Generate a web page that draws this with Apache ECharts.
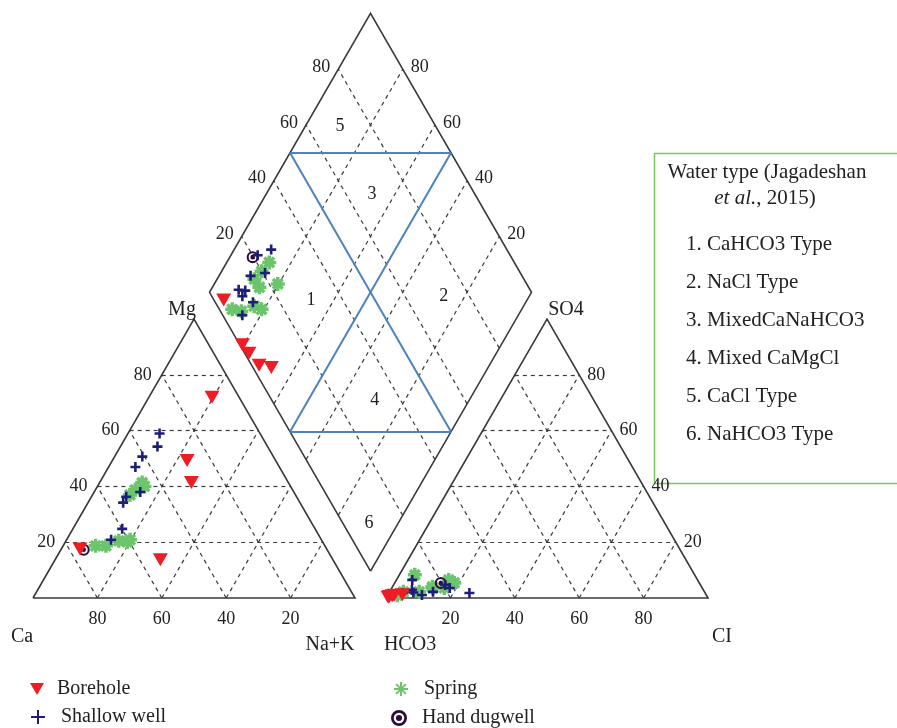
<!DOCTYPE html>
<html><head><meta charset="utf-8">
<script src="https://cdn.jsdelivr.net/npm/echarts@6/dist/echarts.min.js"></script>
<style>html,body{margin:0;padding:0;background:#fff}#c{width:897px;height:728px}</style>
</head><body><div id="c"></div>
<script>
// ---- Sample data (% meq/L) ----
// cations: Mg and Na+K (Ca = 100 - Mg - NaK); anions: SO4 and Cl (HCO3 = rest)
const boreholeMg  = [17.6, 72.0, 49.3, 41.4, 13.7];
const boreholeNaK = [5.8, 19.6, 23.2, 28.5, 32.7];
const boreholeSO4 = [1.0, 0.3, 0.5, 0.8, 1.2];
const boreholeCl  = [2.0, 0.5, 0.8, 1.5, 4.5];

const shallowMg  = [47.0, 54.3, 20.9, 59.0, 36.3, 34.2, 24.8, 38.0, 50.7];
const shallowNaK = [8.3, 11.5, 13.8, 9.8, 10.8, 10.9, 15.3, 14.3, 8.6];
const shallowSO4 = [3.6, 1.8, 4.7, 2.2, 6.5, 2.9, 1.1, 1.8, 2.0];
const shallowCl  = [18.0, 25.0, 16.0, 13.5, 4.9, 6.6, 10.6, 4.3, 7.5];

const springMg  = [41.4, 38.8, 37.0, 20.9, 40.0, 18.7, 18.7, 20.5, 20.1];
const springNaK = [13.2, 12.4, 11.6, 19.7, 14.6, 10.1, 13.3, 16.4, 19.2];
const springSO4 = [5.4, 3.6, 3.6, 6.5, 4.0, 1.0, 2.2, 2.2, 8.3];
const springCl  = [18.5, 16.3, 12.7, 16.2, 12.4, 3.0, 4.3, 9.2, 4.8];

const dugMg  = [17.3];
const dugNaK = [7.1];
const dugSO4 = [5.4];
const dugCl  = [14.3];

const gridLevels = [20, 40, 60, 80];
const tickLabels = ['20', '40', '60', '80'];
const regionNames = ['1', '2', '3', '4', '5', '6'];
const regionCaMg  = [67, 26.5, 67, 29.3, 89.3, 9];   // diamond position of region labels
const regionSO4Cl = [30, 72, 68, 32, 70.3, 8];
const waterTypes = ['1. CaHCO3 Type', '2. NaCl Type', '3. MixedCaNaHCO3',
  '4. Mixed CaMgCl', '5. CaCl Type', '6. NaHCO3 Type'];

// ---- Piper geometry (units: % of triangle side) ----
const H = Math.sqrt(3) / 2;
const GAP = 9.63;
const OX = 100 + GAP;
const BX = 100 + GAP / 2, BY = GAP * H;
function cat(nak, mg) { return [nak + mg / 2, mg * H]; }
function ani(cl, so4) { return [OX + cl + so4 / 2, so4 * H]; }
function dia(c, s) { return [BX + (s - c) / 2, BY + (c + s) * H]; }

function samplePoints(mg, nak, so4, cl) {
  const pts = [];
  for (let i = 0; i < mg.length; i++) {
    pts.push(cat(nak[i], mg[i]));
    pts.push(ani(cl[i], so4[i]));
    pts.push(dia(100 - nak[i], so4[i] + cl[i]));
  }
  return pts;
}

const outline = [
  {coords: [cat(0,0), cat(100,0), cat(0,100), cat(0,0)]},
  {coords: [ani(0,0), ani(100,0), ani(0,100), ani(0,0)]},
  {coords: [dia(0,0), dia(100,0), dia(100,100), dia(0,100), dia(0,0)]}
];
const dashed = [];
gridLevels.forEach(k => {
  dashed.push({coords: [cat(0,k), cat(100-k,k)]});
  dashed.push({coords: [cat(k,0), cat(k,100-k)]});
  dashed.push({coords: [cat(100-k,0), cat(0,100-k)]});
  dashed.push({coords: [ani(0,k), ani(100-k,k)]});
  dashed.push({coords: [ani(k,0), ani(k,100-k)]});
  dashed.push({coords: [ani(100-k,0), ani(0,100-k)]});
  dashed.push({coords: [dia(k,0), dia(k,100)]});
  dashed.push({coords: [dia(0,k), dia(100,k)]});
});
const blue = [
  {coords: [dia(100,50), dia(50,100)]},
  {coords: [dia(50,0), dia(0,50)]},
  {coords: [dia(100,50), dia(0,50)]},
  {coords: [dia(50,100), dia(50,0)]}
];

const SERIF = '"Liberation Serif", "DejaVu Serif", serif';
const triPath = 'path://M0,0 L12,0 L6,10.4 Z';
const plusPath = 'path://M5,0 L5,10 M0,5 L10,5';
const starPath = 'path://M5,0 L5,10 M0,5 L10,5 M1.5,1.5 L8.5,8.5 M8.5,1.5 L1.5,8.5';
const ringPath = 'path://M0,5 A5,5 0 1,0 10,5 A5,5 0 1,0 0,5 Z M1.7,5 A3.3,3.3 0 1,1 8.3,5 A3.3,3.3 0 1,1 1.7,5 Z M3.1,5 A1.9,1.9 0 1,0 6.9,5 A1.9,1.9 0 1,0 3.1,5 Z';

function legendItem(name, left, top, pad, size) {
  return {left: left, top: top, orient: 'vertical', itemWidth: size || 14, itemHeight: size || 14,
    selectedMode: false, padding: 0,
    textStyle: {fontFamily: SERIF, fontSize: 20, color: '#222', padding: [0, 0, 0, pad]},
    data: [name]};
}

const chart = echarts.init(document.getElementById('c'), null, {renderer: 'canvas'});
const option = {
  animation: false,
  backgroundColor: '#fff',
  grid: {left: 0, right: 0, top: 0, bottom: 0},
  xAxis: {type: 'value', min: -10.25, max: 268.32, show: false},
  yAxis: {type: 'value', min: -40.37, max: 185.71, show: false},
  legend: [
    legendItem('Borehole', 30, 679, 8),
    legendItem('Shallow well', 30, 707, 11),
    legendItem('Spring', 393, 679, 11),
    legendItem('Hand dugwell', 391, 708, 10, 16)
  ],
  series: [
    {type: 'lines', coordinateSystem: 'cartesian2d', polyline: true, silent: true, z: 1,
     lineStyle: {color: '#3a3a3a', width: 1.6, opacity: 1}, data: outline},
    {type: 'lines', coordinateSystem: 'cartesian2d', polyline: false, silent: true, z: 1,
     lineStyle: {color: '#3a3a3a', width: 1.2, type: [4, 4], opacity: 1}, data: dashed},
    {type: 'lines', coordinateSystem: 'cartesian2d', polyline: false, silent: true, z: 2,
     lineStyle: {color: '#4f81bd', width: 2, opacity: 1}, data: blue},
    {name: 'Spring', type: 'scatter', z: 3, symbol: starPath, symbolSize: 14,
     itemStyle: {color: '#6cc46c', borderColor: '#6cc46c', borderWidth: 3.5, opacity: 1},
     data: samplePoints(springMg, springNaK, springSO4, springCl)},
    {name: 'Hand dugwell', type: 'scatter', z: 4, symbol: ringPath, symbolSize: 12,
     itemStyle: {color: '#2e0c3a', opacity: 1},
     data: samplePoints(dugMg, dugNaK, dugSO4, dugCl)},
    {name: 'Shallow well', type: 'scatter', z: 5, symbol: plusPath, symbolSize: 10,
     itemStyle: {color: '#1e1e78', borderColor: '#1e1e78', borderWidth: 2.6, opacity: 1},
     data: samplePoints(shallowMg, shallowNaK, shallowSO4, shallowCl)},
    {name: 'Borehole', type: 'scatter', z: 6, symbol: triPath, symbolSize: [15, 13],
     itemStyle: {color: '#ee1c25', opacity: 1},
     data: samplePoints(boreholeMg, boreholeNaK, boreholeSO4, boreholeCl)}
  ]
};
chart.setOption(option);

// ---- Text elements placed via the chart's own scale ----
function P(pt) { return chart.convertToPixel({gridIndex: 0}, pt); }
const g = [];
function txt(pt, text, dx, dy, align, size) {
  const p = P(pt);
  g.push({type: 'text', x: p[0] + dx, y: p[1] + dy, z: 10,
    style: {text: text, fontFamily: SERIF, fontSize: size || 18, fill: '#222',
            align: align || 'center', verticalAlign: 'middle'}});
}
gridLevels.forEach((k, i) => {
  txt(cat(0, k), tickLabels[i], -10, 0, 'right');            // Mg
  txt(cat(k, 0), tickLabels[3 - i], 0, 21, 'center');        // Ca
  txt(ani(k, 0), tickLabels[i], 0, 21, 'center');            // Cl
  txt(ani(100 - k, k), tickLabels[i], 8, 0, 'left');         // SO4
  txt(dia(100, k), tickLabels[i], -8, -2, 'right');          // diamond upper-left
  txt(dia(k, 100), tickLabels[i], 8, -2, 'left');            // diamond upper-right
});
regionNames.forEach((n, i) => txt(dia(regionCaMg[i], regionSO4Cl[i]), n, 0, 0, 'center', 18));
txt(cat(0, 100), 'Mg', -12, -9, 'center', 20);
txt(cat(0, 0), 'Ca', -11, 39, 'center', 20);
txt(cat(100, 0), 'Na+K', -25, 47, 'center', 20);
txt(ani(0, 0), 'HCO3', 24, 47, 'center', 20);
txt(ani(100, 0), 'CI', 14, 39, 'center', 20);
txt(ani(0, 100), 'SO4', 19, -9, 'center', 20);

// Water type box
g.push({type: 'rect', z: 9, shape: {x: 654.5, y: 153.5, width: 260, height: 330},
  style: {fill: 'none', stroke: '#7dc75a', lineWidth: 1.5}});
g.push({type: 'text', x: 767, y: 172, z: 10, style: {text: 'Water type (Jagadeshan',
  fontFamily: SERIF, fontSize: 21, fill: '#222', align: 'center', verticalAlign: 'middle'}});
g.push({type: 'text', x: 765, y: 198, z: 10, style: {text: '{i|et al.}, 2015)',
  fontFamily: SERIF, fontSize: 21, fill: '#222', align: 'center', verticalAlign: 'middle',
  rich: {i: {fontFamily: SERIF, fontSize: 21, fontStyle: 'italic', fill: '#222'}}}});
waterTypes.forEach((t, i) => {
  g.push({type: 'text', x: 686, y: 244 + i * 38, z: 10, style: {text: t,
    fontFamily: SERIF, fontSize: 21, fill: '#222', align: 'left', verticalAlign: 'middle'}});
});
chart.setOption({graphic: g});
</script></body></html>
